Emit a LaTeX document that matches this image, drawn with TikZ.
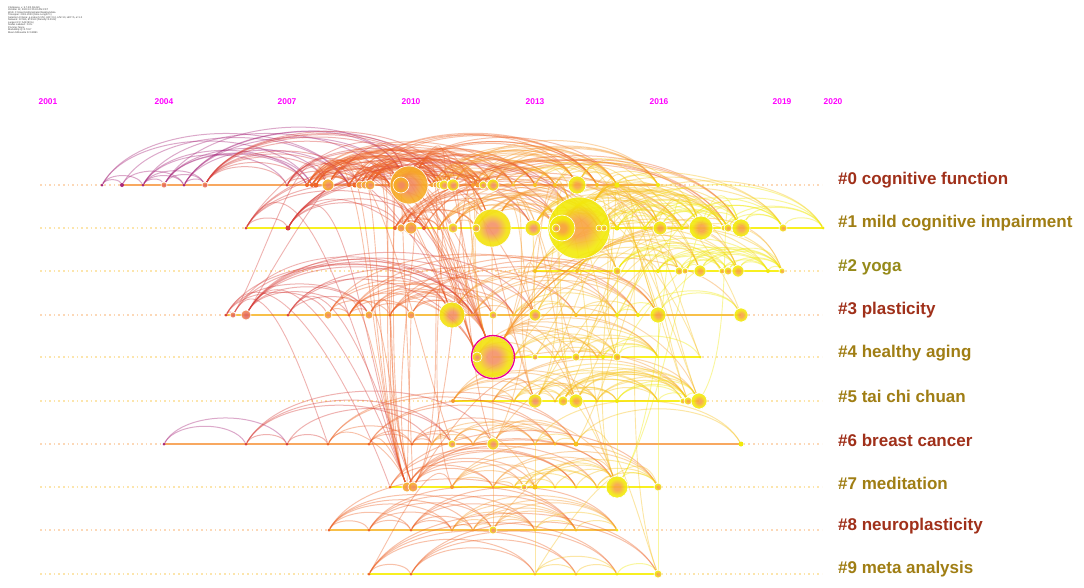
\documentclass[tikz,border=0pt]{standalone}
\usepackage{fontspec}
\setmainfont{Liberation Sans}
\pgfdeclarelayer{bgl}
\pgfdeclarelayer{arcl}
\pgfsetlayers{bgl,arcl,main}
\definecolor{cP}{HTML}{A8287C}
\definecolor{cR}{HTML}{D8403C}
\definecolor{cO}{HTML}{EE6428}
\definecolor{cA}{HTML}{F79A2E}
\definecolor{cB}{HTML}{F8C21E}
\definecolor{cY}{HTML}{F2EA0A}
\definecolor{lnO}{HTML}{F8A860}
\definecolor{lnA}{HTML}{F8C048}
\definecolor{lnY}{HTML}{F8F020}
\definecolor{labR}{HTML}{A0301A}
\definecolor{labG}{HTML}{A07E14}
\definecolor{labV}{HTML}{968A1A}
\definecolor{yrM}{HTML}{FF00FF}
\colorlet{ringin}{cO}
\colorlet{ringout}{cY}
\pgfdeclareradialshading[ringin,ringout]{ringshade}{\pgfpoint{0bp}{0bp}}{color(0bp)=(ringin); color(7bp)=(ringin); color(19bp)=(ringout); color(25bp)=(ringout); color(50bp)=(ringout)}
\tikzset{
 smallnode/.style={circle,inner sep=0pt,draw=none},
 bignode/.style={circle,inner sep=0pt,draw=white,line width=0.6pt,shading=ringshade,fill opacity=0.9},
 arcst/.style={line width=1pt,draw opacity=0.4},
 linkst/.style={line width=0.9pt,draw opacity=0.4},
 rowline/.style={line width=1.5pt},
 dotline/.style={line width=1.1pt,dash pattern=on 1.6pt off 3pt},
 lab/.style={anchor=west,font=\fontsize{17}{20}\selectfont\bfseries,inner sep=0pt},
 yr/.style={font=\fontsize{8.4}{10}\selectfont\bfseries,text=yrM,inner sep=0pt},
}
\newcommand\setcol[2]{%
 \ifdim#1pt<190pt\def#2{cP}\else
 \ifdim#1pt<300pt\def#2{cR}\else
 \ifdim#1pt<425pt\def#2{cO}\else
 \ifdim#1pt<505pt\def#2{cA}\else
 \ifdim#1pt<600pt\def#2{cB}\else\def#2{cY}\fi\fi\fi\fi\fi}
\newcommand\tlrow[3]{%
 \foreach \xx/\rr [count=\ii] in {#3}{%
  \setcol{\xx}{\nc}%
  \pgfmathsetlengthmacro\dd{2*\rr}%
  \ifdim\rr pt<3pt
   \node[smallnode,fill=\nc,minimum size=\dd] (r#1-\ii) at (\xx,#2) {};%
  \else
   \ifdim\xx pt<300pt\colorlet{ringin}{cR!80!white}\colorlet{ringout}{cO!80!white}\else
   \ifdim\xx pt<440pt\colorlet{ringin}{cO!75!white}\colorlet{ringout}{cA!55!cB}\else
   \ifdim\xx pt<560pt\colorlet{ringin}{cO!70!white}\colorlet{ringout}{cY!80!cB}\else
   \colorlet{ringin}{cA!90!white}\colorlet{ringout}{cY}\fi\fi\fi
   \node[bignode,minimum size=\dd] (r#1-\ii) at (\xx,#2) {};%
  \fi
  \expandafter\xdef\csname Xr#1-\ii\endcsname{\xx}%
 }}
\newcommand\rowarcs[4]{%
 \foreach \i in {1,...,#2}{%
  \foreach \j in {1,...,#2}{%
   \edef\xa{\csname Xr#1-\i\endcsname}%
   \edef\xb{\csname Xr#1-\j\endcsname}%
   \ifdim\xa pt<\xb pt
    \pgfmathsetmacro\sp{\xb-\xa}%
    \pgfmathtruncatemacro\ok{((\sp>6)&&(\sp<#3)&&(rnd<#4*(1-0.5*\sp/#3)))?1:0}%
    \ifnum\ok=1
     \setcol{\xa}{\ac}%
     \draw[arcst,draw=\ac] (r#1-\i) to[out=60,in=120,looseness=0.8] (r#1-\j);%
    \fi
   \fi
 }}}
\newcommand\links[1]{%
 \foreach \a/\b in {#1}{%
  \edef\xa{\csname X\a\endcsname}%
  \setcol{\xa}{\lc}%
  \draw[linkst,draw=\lc] (\a) to[out=60,in=110] (\b);}}
\newcommand\vlinks[1]{%
 \foreach \a/\b in {#1}{%
  \edef\xa{\csname X\a\endcsname}%
  \setcol{\xa}{\lc}%
  \draw[linkst,draw=\lc] (\a) -- (\b);}}
\begin{document}
\begin{tikzpicture}[x=1pt,y=1pt]
\pgfmathsetseed{3}
\useasboundingbox (0,0) rectangle (1084,-587);
% ---------- nodes ----------
\tlrow{0}{-185}{102/1.5,122/2,143/1.5,164/3,184/1.5,205/3,287/1.5,307/2,312/2,316/2.5,328/6,349/2,355/2.5,360/4,365/4,370/5,390/2,395/2.5,409/19,401/8,432/2,436/3,440/4,444/5,453/6,473/2,478/2.5,483/4,493/6,513/1.5,535/2,555/2,577/9,597/2,617/2.5,658/2}
\tlrow{1}{-228}{246/1.5,288/2.5,395/2,401/4,411/6,424/2,439/2,453/5,492/19,476/4,533/8,579/31,562/13,556/4,599/3,604/3,617/2.5,645/2,660/7,682/2,701/12,724/3,728/4,741/9,783/4,823/1.5}
\tlrow{2}{-271}{535/2,577/2,617/4,658/2,679/4,685/3,700/6,722/3,728/4,738/6,768/2,782/3}
\tlrow{3}{-315}{226/1.5,233/3,246/5,288/1.5,328/4,349/1.5,369/4,390/1.5,411/4,452/13,473/1.5,493/4,514/1.5,535/6,576/2,617/2,638/2,658/8,741/7}
\tlrow{4}{-357}{493/21,477/5,514/2,535/3,555/1.5,576/4,597/1.5,603/2,617/4,658/1.5,700/1.5}
\tlrow{5}{-401}{453/2,493/1.5,514/1.5,535/7,555/1.5,563/5,576/7,597/1.5,617/2,658/1.5,683/3,688/4,699/8}
\tlrow{6}{-444}{164/1.5,246/1.5,287/1.5,328/1.5,369/1.5,412/1.5,432/1.5,452/4,473/1.5,493/6,535/1.5,555/1.5,576/2.5,741/2.5}
\tlrow{7}{-487}{390/1.5,407/5,413/5,452/2,493/1.5,514/1.5,524/3,535/2.5,555/1.5,576/1.5,597/1.5,617/11,658/4}
\tlrow{8}{-530}{329/1.5,369/1.5,411/1.5,452/1.5,473/1.5,493/4,535/1.5,576/1.5,617/1.5}
\tlrow{9}{-574}{369/1.5,411/1.5,535/1.5,576/1.5,617/1.5,658/4}
\draw[magenta,line width=1.3pt] (r4-1.center) circle[radius=21.5];
% ---------- background lines ----------
\begin{pgfonlayer}{bgl}
\fill[white] (0,0) rectangle (1084,-587);
\foreach \yy/\cc in {-185/lnO,-228/lnY,-271/lnY,-315/lnO,-357/lnY,-401/lnY,-444/lnO,-487/lnY,-530/lnO,-574/lnY}
 \draw[dotline,draw=\cc!40!lnO!45!white] (40,\yy) -- (822,\yy);
\draw[rowline,lnO] (r0-2.center) -- (r0-36.center);
\draw[rowline,lnY] (r1-1.center) -- (r1-26.center);
\draw[rowline,lnY] (r2-1.center) -- (r2-12.center);
\draw[rowline,lnA] (r3-1.center) -- (r3-19.center);
\draw[rowline,lnY] (r4-1.center) -- (r4-11.center);
\draw[rowline,lnY] (r5-1.center) -- (r5-13.center);
\draw[rowline,lnO] (r6-1.center) -- (r6-14.center);
\draw[rowline,lnY] (r7-1.center) -- (r7-13.center);
\draw[rowline,lnA] (r8-1.center) -- (r8-9.center);
\draw[rowline,lnY] (r9-1.center) -- (r9-6.center);
\end{pgfonlayer}
% ---------- arcs ----------
\begin{pgfonlayer}{arcl}
\rowarcs{0}{36}{260}{0.5}
\rowarcs{1}{26}{340}{0.5}
\rowarcs{2}{12}{250}{0.65}
\rowarcs{3}{19}{300}{0.55}
\rowarcs{4}{11}{210}{0.65}
\rowarcs{5}{13}{250}{0.65}
\rowarcs{6}{14}{270}{0.65}
\rowarcs{7}{13}{270}{0.65}
\rowarcs{8}{9}{300}{1.0}
\rowarcs{9}{6}{300}{0.9}
\links{r0-7/r4-1,r0-8/r4-1,r0-11/r4-1,r0-14/r4-1,r0-16/r4-1,r0-19/r4-1,r0-24/r4-1,r0-25/r4-1,
r3-2/r4-1,r3-3/r4-1,r3-5/r4-1,r3-7/r4-1,r3-9/r4-1,r3-10/r4-1,r1-2/r4-1,r1-5/r4-1,r1-8/r4-1,
r0-8/r7-2,r0-10/r7-2,r0-11/r7-2,r0-13/r7-2,r0-15/r7-2,r3-3/r7-2,r3-5/r7-2,r3-7/r7-2,r1-1/r7-2,r1-2/r7-2,r6-4/r7-2,r6-5/r7-2,
r0-19/r3-10,r0-19/r1-9,r0-19/r6-10,r0-19/r5-4,r0-19/r7-4,r3-10/r1-9,
r1-9/r3-14,r1-9/r4-6,r1-9/r5-4,r1-9/r2-3,r1-9/r5-7,
r4-1/r2-1,r4-1/r2-3,r4-1/r2-5,r4-1/r2-7,r4-1/r2-10,r4-1/r2-12,r4-1/r3-18,r4-1/r1-12,r4-1/r1-19,r4-1/r5-4,r4-1/r5-7,r4-1/r5-13,r4-1/r7-12,r4-1/r3-14,
r1-12/r2-3,r1-12/r2-5,r1-12/r2-7,r1-12/r2-10,r1-12/r4-9,r1-12/r4-11,r1-12/r5-13,r1-12/r7-12,r1-12/r9-6,r1-12/r3-18,r1-12/r3-19,r1-12/r5-12,
r1-11/r5-7,r1-11/r7-12,r0-33/r1-19,r0-33/r1-21,r0-33/r2-7,r0-33/r3-18,r0-29/r1-12,r0-29/r1-11,
r3-14/r1-12,r3-14/r2-3,r5-4/r1-12,r5-4/r7-12,r5-4/r2-7,r7-3/r1-9,r7-3/r3-10,r7-3/r5-4,
r6-10/r7-12,r6-10/r5-7,r6-10/r1-12,r6-8/r7-8,r8-6/r7-12,r9-1/r7-4,r9-3/r7-13,r6-13/r9-6,r6-13/r1-21,
r7-12/r1-24,r7-12/r1-21,r2-1/r1-21,r0-11/r1-9,r0-14/r1-5,r0-16/r1-8,r0-12/r3-10,r3-3/r0-19,r3-2/r0-11,r1-1/r0-19,
r0-7/r3-10,r0-11/r3-10,r0-14/r3-12,r0-16/r3-14,r0-8/r1-5,r0-10/r1-9,r0-13/r4-2,r0-15/r4-2,r0-17/r4-2,r0-20/r4-2,
r3-4/r4-2,r3-6/r4-2,r3-8/r4-2,r1-3/r4-2,r1-4/r4-2,r0-9/r6-8,r0-12/r7-3,r0-14/r7-3,r3-4/r7-3,r3-6/r7-3,r1-3/r7-3,
r3-2/r6-4,r3-1/r7-1,r4-6/r2-7,r4-9/r2-10,r4-4/r1-19,r4-6/r1-21,r5-7/r2-5,r5-13/r1-24,r5-4/r2-3,r5-6/r1-19,r4-3/r2-12,
r3-14/r2-10,r3-18/r2-12,r3-16/r1-24,r0-31/r4-9,r0-32/r5-12,r1-13/r5-13,r1-11/r4-11}
\vlinks{r1-9/r6-10,r6-10/r8-6,r2-3/r7-12,r3-18/r9-6,r3-9/r7-2,r6-11/r9-3,r0-20/r7-3,r1-11/r3-14}
\end{pgfonlayer}
% ---------- labels ----------
\node[lab,text=labR] (l0) at (838,-180) {\#0 cognitive function};
\node[lab,text=labG] (l1) at (838,-223) {\#1 mild cognitive impairment};
\node[lab,text=labV] (l2) at (838,-267) {\#2 yoga};
\node[lab,text=labR] (l3) at (838,-310) {\#3 plasticity};
\node[lab,text=labG] (l4) at (838,-353) {\#4 healthy aging};
\node[lab,text=labG] (l5) at (838,-396) {\#5 tai chi chuan};
\node[lab,text=labR] (l6) at (838,-440) {\#6 breast cancer};
\node[lab,text=labG] (l7) at (838,-483) {\#7 meditation};
\node[lab,text=labR] (l8) at (838,-526) {\#8 neuroplasticity};
\node[lab,text=labG] (l9) at (838,-569) {\#9 meta analysis};
% ---------- years ----------
\node[yr] (y01) at (48,-101.5) {2001};
\node[yr] (y04) at (164,-101.5) {2004};
\node[yr] (y07) at (287,-101.5) {2007};
\node[yr] (y10) at (411,-101.5) {2010};
\node[yr] (y13) at (535,-101.5) {2013};
\node[yr] (y16) at (659,-101.5) {2016};
\node[yr] (y19) at (782,-101.5) {2019};
\node[yr] (y20) at (833,-101.5) {2020};
% ---------- header ----------
\node[anchor=north west,inner sep=0pt,align=left,text=black!75,font=\fontsize{2.5}{2.55}\selectfont] (hdr) at (8,-6)
{CiteSpace, v. 5.7.R2 (64-bit)\\
October 12, 2020 10:15:32 AM CST\\
WoS: C:\textbackslash Users\textbackslash Administrator\textbackslash Desktop\textbackslash data\\
Timespan: 2001-2020 (Slice Length=1)\\
Selection Criteria: g-index (k=25), LRF=3.0, L/N=10, LBY=5, e=1.0\\
Network: N=596, E=2163 (Density=0.0122)\\
Largest CC: 548 (91\%)\\
Nodes Labeled: 1.0\%\\
Pruning: None\\
Modularity Q=0.7017\\
Mean Silhouette S=0.8891};
\end{tikzpicture}
\end{document}
